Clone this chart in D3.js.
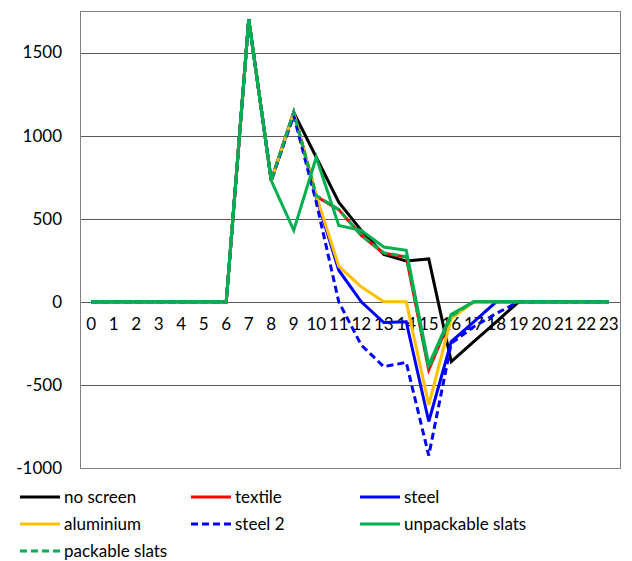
<!DOCTYPE html>
<html>
<head>
<meta charset="utf-8">
<script src="https://cdn.jsdelivr.net/npm/d3@7"></script>
<style>
	body { margin: 0; background: #fff; }
	text { font-family: Lato, sans-serif; fill: #000; }
</style>
</head>
<body>
<svg width="632" height="561"></svg>
<script>
var hours = d3.range(0, 24);
var yTicks = [-1000, -500, 0, 500, 1000, 1500];

var noScreen   = [0,0,0,0,0,0,0,1700,730,1140,870,600,430,285,245,258,-360,-240,-120,0,0,0,0,0];
var textile    = [0,0,0,0,0,0,0,1700,730,1140,635,555,400,292,270,-410,-90,0,0,0,0,0,0,0];
var steel      = [0,0,0,0,0,0,0,1700,730,1140,630,190,0,-125,-120,-720,-240,-120,0,0,0,0,0,0];
var aluminium  = [0,0,0,0,0,0,0,1700,730,1140,640,215,90,0,0,-620,-100,0,0,0,0,0,0,0];
var steel2     = [0,0,0,0,0,0,0,1700,730,1120,600,0,-260,-390,-365,-925,-250,-150,-70,0,0,0,0,0];
var unpackable = [0,0,0,0,0,0,0,1700,730,430,870,460,430,330,310,-380,-75,0,0,0,0,0,0,0];
var packable   = [0,0,0,0,0,0,0,1700,730,1140,640,555,400,295,272,-400,-85,0,0,0,0,0,0,0];

var series = [
	{name: "no screen", values: noScreen, color: "#000000", dash: null},
	{name: "textile", values: textile, color: "#ff0000", dash: null},
	{name: "steel", values: steel, color: "#0000ff", dash: null},
	{name: "aluminium", values: aluminium, color: "#ffc000", dash: null},
	{name: "steel 2", values: steel2, color: "#0000ff", dash: "7,4"},
	{name: "unpackable slats", values: unpackable, color: "#00b050", dash: null},
	{name: "packable slats", values: packable, color: "#00b050", dash: "7,4"}
];

var svg = d3.select("svg"),
	plotL = 80, plotR = 620, plotT = 11, plotB = 468;

var x = d3.scaleBand().domain(hours).range([plotL, plotR]);
var y = d3.scaleLinear().domain([-1000, 1750]).range([plotB, plotT]);

// gridlines
svg.append("g")
	.selectAll("line")
	.data(yTicks)
	.enter().append("line")
	.attr("x1", plotL)
	.attr("x2", plotR)
	.attr("y1", function (d) { return Math.round(y(d)) + 0.5; })
	.attr("y2", function (d) { return Math.round(y(d)) + 0.5; })
	.attr("stroke", "#595959")
	.attr("stroke-width", 1);

// plot border
svg.append("rect")
	.attr("x", plotL + 0.5)
	.attr("y", plotT + 0.5)
	.attr("width", plotR - plotL)
	.attr("height", plotB - plotT)
	.attr("fill", "none")
	.attr("stroke", "#808080");

// y axis labels
var yAxis = svg.append("g")
	.attr("transform", "translate(" + (plotL - 12) + ",0)")
	.call(d3.axisLeft(y).tickValues(yTicks).tickFormat(function (d) { return String(d); }).tickSize(0).tickPadding(6));
yAxis.select(".domain").remove();
yAxis.selectAll("text").style("font-size", "17px").style("font-family", "Lato, sans-serif").attr("fill", "#000");

// x axis labels under the zero line
var xAxis = svg.append("g")
	.attr("transform", "translate(0," + y(0) + ")")
	.call(d3.axisBottom(x).tickSize(0).tickPadding(16));
xAxis.select(".domain").remove();
xAxis.selectAll("text").style("font-size", "17px").style("font-family", "Lato, sans-serif").attr("fill", "#000");

var line = d3.line()
	.x(function (d, i) { return x(hours[i]) + x.bandwidth() / 2; })
	.y(function (d) { return y(d); });

svg.append("g")
	.selectAll("path")
	.data(series)
	.enter().append("path")
	.attr("d", function (d) { return line(d.values); })
	.attr("fill", "none")
	.attr("stroke", function (d) { return d.color; })
	.attr("stroke-width", 3)
	.attr("stroke-linejoin", "miter")
	.attr("stroke-dasharray", function (d) { return d.dash; });

// legend
var legX = [20, 191, 360], legY = [497, 524, 551];
var leg = svg.append("g")
	.selectAll("g")
	.data(series)
	.enter().append("g")
	.attr("transform", function (d, i) {
		return "translate(" + legX[i % 3] + "," + legY[Math.floor(i / 3)] + ")";
	});

leg.append("line")
	.attr("x1", 0)
	.attr("x2", 40)
	.attr("stroke", function (d) { return d.color; })
	.attr("stroke-width", 3)
	.attr("stroke-dasharray", function (d) { return d.dash; });

leg.append("text")
	.attr("x", 44)
	.attr("dy", "0.35em")
	.style("font-size", "17px")
	.text(function (d) { return d.name; });
</script>
</body>
</html>
